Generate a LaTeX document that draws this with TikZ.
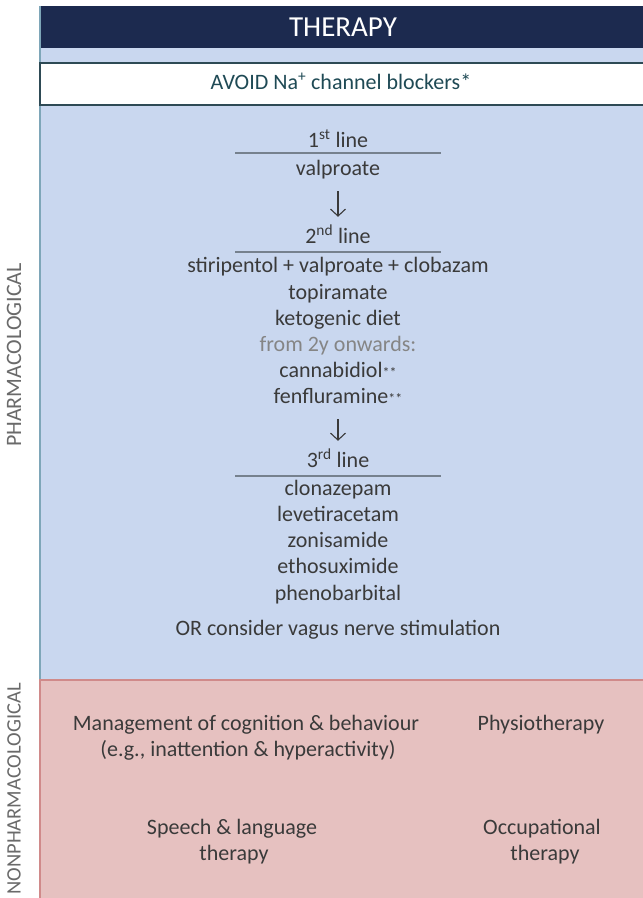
\documentclass[tikz,border=0pt]{standalone}
\usepackage{fontspec}
\setmainfont{Carlito}
\usetikzlibrary{arrows.meta}
\definecolor{navy}{HTML}{1C2A4F}
\definecolor{pblue}{HTML}{C9D7EF}
\definecolor{ppink}{HTML}{E6C1C0}
\definecolor{txt}{HTML}{3A3A3A}
\definecolor{boxedge}{HTML}{2E4A55}
\definecolor{avoidt}{HTML}{1F4A55}
\definecolor{blueedge}{HTML}{7EA6B8}
\definecolor{pinkedge}{HTML}{D08A8A}
\definecolor{grayt}{HTML}{858585}
\definecolor{sidet}{HTML}{6A6A6A}
\definecolor{rulec}{HTML}{76818E}
\begin{document}
\begin{tikzpicture}[x=1pt,y=-1pt,
  body/.style={font=\fontsize{22}{26}\selectfont, text=txt, inner sep=0pt, text height=15pt, text depth=5pt},
  side/.style={font=\fontsize{22}{26}\selectfont, text=sidet, inner sep=0pt, rotate=90},
  rulel/.style={draw=rulec, line width=1.1pt},
  arr/.style={draw=txt, line width=1.1pt, -{Straight Barb[length=7pt,width=15pt,line width=1.1pt]}, shorten >=11pt, shorten <=11pt}]
\useasboundingbox (0,0) rectangle (643,898);
\clip (0,0) rectangle (643,898);
\fill[white] (0,0) rectangle (643,898);
% panels
\fill[navy] (40,6) rectangle (650,48);
\fill[pblue] (40,48) rectangle (650,680);
\fill[ppink] (40,680) rectangle (650,900);
\draw[blueedge, line width=1.2pt] (40,6) -- (40,680);
\draw[pinkedge, line width=1.2pt] (40,900) -- (40,680) -- (650,680);
\draw[boxedge, fill=white, line width=1.3pt] (40,63) rectangle (650,105);
% header texts
\node[font=\fontsize{29}{32}\selectfont, text=white, inner sep=0pt] (title) at (343,27) {THERAPY};
\node[body, text=avoidt] (avoid) at (341,84) {AVOID Na\textsuperscript{+} channel blockers*};
% side labels
\node[side] (pharm) at (14,355) {PHARMACOLOGICAL};
\node[side, font=\fontsize{20.5}{24}\selectfont] (nonpharm) at (14,789) {NONPHARMACOLOGICAL};
% 1st line
\node[body] (l1) at (338,142) {1\textsuperscript{st} line};
\draw[rulel] (235,153) -- (441,153);
\node[body] (valp) at (338,170) {valproate};
% 2nd line
\node[body] (l2) at (338,238) {2\textsuperscript{nd} line};
\draw[rulel] (235,252) -- (441,252);
\node[body] (stir) at (338,267) {stiripentol + valproate + clobazam};
\node[body] (topi) at (338,294) {topiramate};
\node[body] (keto) at (338,320) {ketogenic diet};
\node[body, text=grayt] (from) at (338,346) {from 2y onwards:};
\node[body] (canna) at (338,372) {cannabidiol{\fontsize{14}{15}\selectfont**}};
\node[body] (fenf) at (338,398) {fenfluramine{\fontsize{14}{15}\selectfont**}};
% 3rd line
\node[body] (l3) at (338,462) {3\textsuperscript{rd} line};
\draw[rulel] (235,476) -- (441,476);
\node[body] (clon) at (338,490) {clonazepam};
\node[body] (leve) at (338,516) {levetiracetam};
\node[body] (zoni) at (338,542) {zonisamide};
\node[body] (etho) at (338,568) {ethosuximide};
\node[body] (phen) at (338,595) {phenobarbital};
\node[body] (vns) at (338,630) {OR consider vagus nerve stimulation};
% arrows
\draw[arr] (valp) -- (l2);
\draw[arr] (fenf) -- (l3);
% nonpharmacological
\node[body] (mgmt1) at (246,725) {Management of cognition \& behaviour};
\node[body] (mgmt2) at (248,751) {(e.g., inattention \& hyperactivity)};
\node[body] (physio) at (541,725) {Physiotherapy};
\node[body] (speech1) at (232,829) {Speech \& language};
\node[body] (speech2) at (234,855) {therapy};
\node[body] (occ1) at (542,829) {Occupational};
\node[body] (occ2) at (545,855) {therapy};
\end{tikzpicture}
\end{document}
